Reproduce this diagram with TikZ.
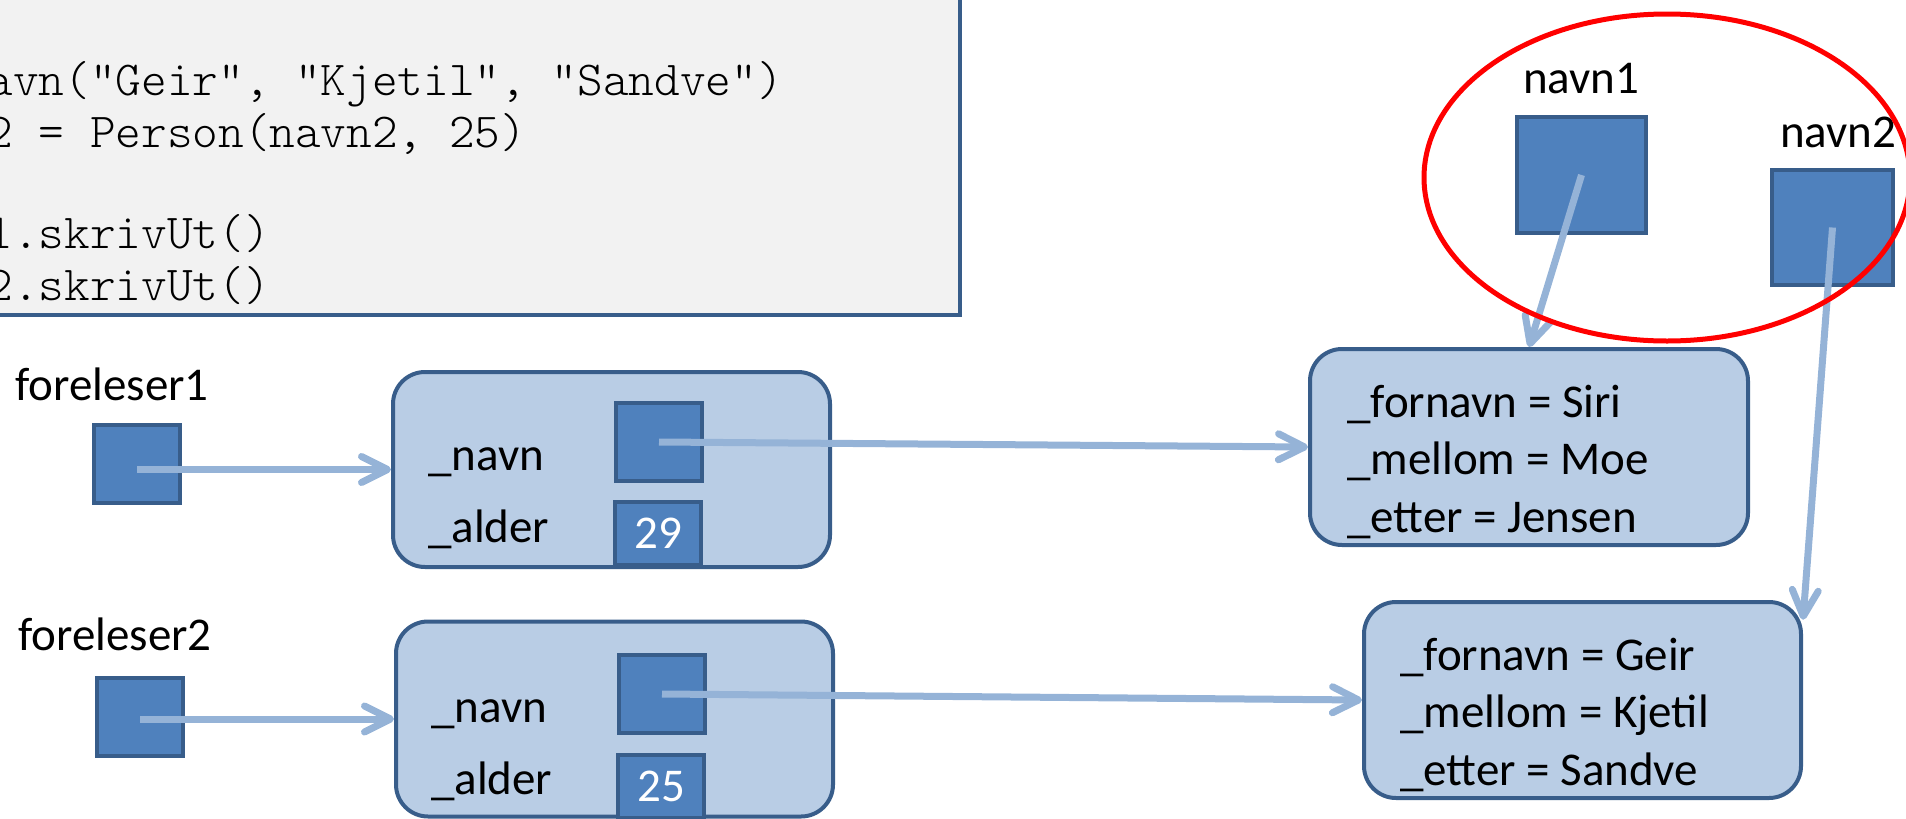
\documentclass[tikz,border=0pt]{standalone}
\usepackage{fontspec}
\setmainfont{Carlito}
\newfontfamily\codefont{lmmonolt10-regular}[Extension=.otf]
\usepackage{tikz}
\usetikzlibrary{%
        arrows.meta,
        calc
    }
\definecolor{ptrfill}{RGB}{79, 129, 189}
\definecolor{edgeblue}{RGB}{56, 93, 138}
\definecolor{objfill}{RGB}{185, 205, 229}
\definecolor{linkblue}{RGB}{149, 179, 215}
\definecolor{codebg}{RGB}{242, 242, 242}
\newcommand{\lblfont}{\fontsize{47}{57.5}\selectfont}
\newcommand{\srcfont}{\codefont\fontsize{48.86}{51}\selectfont}

\tikzset{%
    ptr/.style={draw=edgeblue, fill=ptrfill, line width=4pt, inner sep=0pt,
        minimum width=86pt, minimum height=78pt},
    val/.style={ptr, minimum height=63pt, text=white, font=\lblfont},
    obj/.style={draw=edgeblue, fill=objfill, line width=4pt, rounded corners=32pt,
        minimum width=437pt, minimum height=195pt},
    lbl/.style={anchor=base west, inner sep=0pt, font=\lblfont},
    src/.style={anchor=base west, inner sep=0pt, font=\srcfont},
    link/.style={draw=linkblue, line width=7pt,
        -{Straight Barb[length=26pt, width=26pt, round]}}
}

\begin{document}
\begin{tikzpicture}[x=1pt, y=-1pt]

    \clip (0, 0) rectangle (1906, 819);

    % code listing (cut off at the left and top)
    \draw[fill=codebg, draw=edgeblue, line width=4.5pt]
        (-30, -30) rectangle (960, 315);
    \foreach \src/\yy [count=\i] in {%
            {avn("Geir", "Kjetil", "Sandve")}/95,
            {2 = Person(navn2, 25)}/147,
            {1.skrivUt()}/248,
            {2.skrivUt()}/300} {%
        \node[src] (code\i) at (-12.7, \yy) {\src};
    };

    % variables
    \node[lbl] (f1lbl) at (15, 400) {foreleser1};
    \node[ptr] (f1) at (137, 464) {};
    \node[lbl] (f2lbl) at (18, 650) {foreleser2};
    \node[ptr] (f2) at (140, 717) {};

    % Person objects
    \node[obj] (p1) at (611.5, 469.5) {};
    \node[lbl] (p1navn) at (428, 470) {\_navn};
    \node[lbl] (p1alder) at (428, 542) {\_alder};
    \node[ptr] (pn1) at (659, 442) {};
    \node[val] (a1) at (658, 533.5) {29};

    \node[obj] (p2) at (614.5, 719) {};
    \node[lbl] (p2navn) at (431, 722) {\_navn};
    \node[lbl] (p2alder) at (431, 794) {\_alder};
    \node[ptr] (pn2) at (662, 694) {};
    \node[val] (a2) at (661, 786.5) {25};

    % Navn objects
    \node[obj, minimum width=438pt, minimum height=196pt] (t1) at (1529, 447) {};
    \foreach \txt [count=\i] in {%
            {\_fornavn = Siri}, {\_mellom = Moe}, {\_etter = Jensen}} {%
        \node[lbl] (t1row\i) at (1347, {417 + 57.5*(\i-1)}) {\txt};
    };
    \node[obj, minimum height=196pt] (t2) at (1582.5, 700) {};
    \foreach \txt [count=\i] in {%
            {\_fornavn = Geir}, {\_mellom = Kjetil}, {\_etter = Sandve}} {%
        \node[lbl] (t2row\i) at (1400, {670 + 57.5*(\i-1)}) {\txt};
    };

    \node[lbl] (n1lbl) at (1523, 93) {navn1};
    \node[ptr, minimum width=129pt, minimum height=116pt] (n1) at (1581.5, 175) {};
    \node[lbl] (n2lbl) at (1780, 147) {navn2};
    \node[ptr, minimum width=121pt, minimum height=115pt] (n2) at (1832.5, 227.5) {};

    % references
    \draw[link] (f1.center |- p1.west) -- (p1.west);
    \draw[link] (f2.center |- p2.west) -- (p2.west);
    \draw[link] (pn1.center) -- (t1.west);
    \draw[link] (pn2.center) -- (t2.west);
    \draw[link] (n1.center) -- (t1.north);
    \draw[link] (n2.center) -- (t2.20);

    \draw[red, line width=5pt] (1667, 177.5) ellipse [x radius=243, y radius=163.5];

\end{tikzpicture}
\end{document}
